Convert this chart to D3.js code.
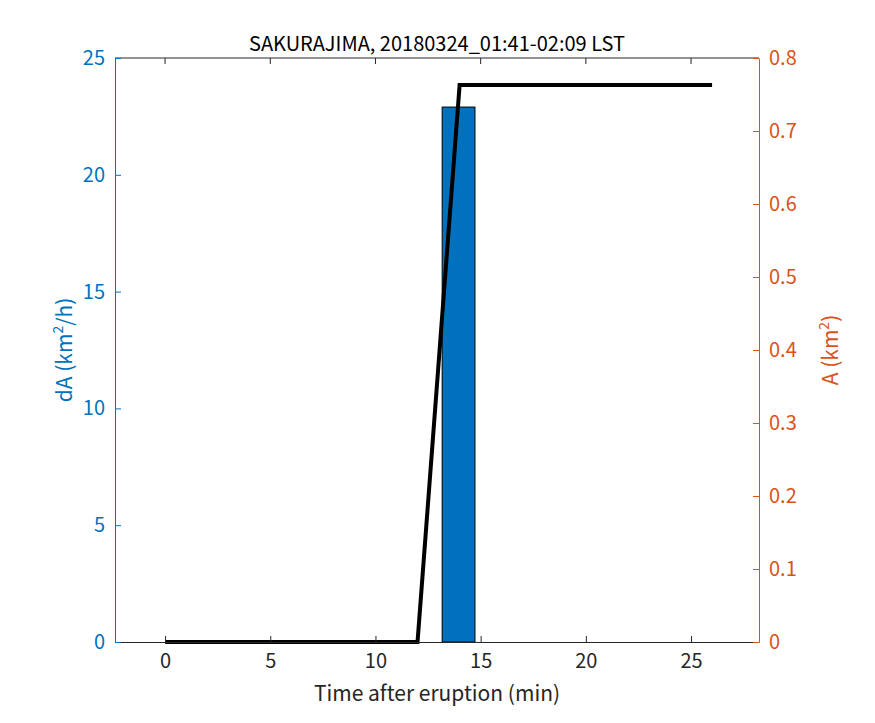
<!DOCTYPE html>
<html><head><meta charset="utf-8">
<script src="https://cdn.jsdelivr.net/npm/d3@7"></script>
<style>body{margin:0;background:#fff}svg{display:block}text{font-family:"Noto Sans CJK JP","Noto Sans",sans-serif}</style>
</head><body><svg id="c" width="875" height="723"></svg>
<script>
const titleText = "SAKURAJIMA, 20180324_01:41-02:09 LST";
const barTimes = [13.95];
const barValues = [22.9];
const barWidth = 1.56;
const lineTimes = [0, 12, 14, 26];
const lineValues = [0, 0, 0.763, 0.763];
const xTicks = [0, 5, 10, 15, 20, 25];
const yLeftTicks = [0, 5, 10, 15, 20, 25];
const yRightTicks = [0, 0.1, 0.2, 0.3, 0.4, 0.5, 0.6, 0.7, 0.8];

const W = 875, H = 723, L = 115, R = 759, T = 58, B = 642;
const blue = "#0072BD", orange = "#D95319";
const svg = d3.select("#c");
svg.append("rect").attr("width", W).attr("height", H).attr("fill", "#fff");
const x = d3.scaleLinear().domain([-2.38, 28.23]).range([L, R]);
const yl = d3.scaleLinear().domain([0, 25]).range([B, T]);
const yr = d3.scaleLinear().domain([0, 0.8]).range([B, T]);

svg.selectAll(".bar").data(barTimes).enter().append("rect")
  .attr("x", d => x(d - barWidth / 2)).attr("width", d => x(d + barWidth / 2) - x(d - barWidth / 2))
  .attr("y", (d, i) => yl(barValues[i])).attr("height", (d, i) => yl(0) - yl(barValues[i]))
  .attr("fill", blue).attr("stroke", "#000").attr("stroke-width", 1);

svg.append("path").datum(lineTimes.map((t, i) => [t, lineValues[i]]))
  .attr("d", d3.line().x(d => x(d[0])).y(d => yr(d[1])))
  .attr("fill", "none").attr("stroke", "#000").attr("stroke-width", 4);

svg.append("line").attr("x1", L).attr("x2", R).attr("y1", T).attr("y2", T).attr("stroke", "#262626");

const fs = "20px";
const gx = svg.append("g").attr("transform", `translate(0,${B})`)
  .call(d3.axisBottom(x).tickValues(xTicks).tickSizeInner(-6).tickSizeOuter(0).tickPadding(12));
gx.select(".domain").attr("stroke", "#262626");
gx.selectAll("line").attr("stroke", "#262626");
gx.selectAll("text").attr("font-size", fs).attr("fill", "#262626");
svg.selectAll(".tt").data(xTicks).enter().append("line")
  .attr("x1", d => x(d)).attr("x2", d => x(d)).attr("y1", T).attr("y2", T + 6).attr("stroke", "#262626");

const gl = svg.append("g").attr("transform", `translate(${L},0)`)
  .call(d3.axisLeft(yl).tickValues(yLeftTicks).tickSizeInner(-6).tickSizeOuter(0).tickPadding(10));
gl.select(".domain").attr("stroke", blue);
gl.selectAll("line").attr("stroke", blue);
gl.selectAll("text").attr("font-size", fs).attr("fill", blue);

const gr = svg.append("g").attr("transform", `translate(${R},0)`)
  .call(d3.axisRight(yr).tickValues(yRightTicks).tickFormat(d => d === 0 ? "0" : d3.format(".1f")(d)).tickSizeInner(-6).tickSizeOuter(0).tickPadding(10));
gr.select(".domain").attr("stroke", orange);
gr.selectAll("line").attr("stroke", orange);
gr.selectAll("text").attr("font-size", fs).attr("fill", orange);

svg.append("text").attr("x", (L + R) / 2).attr("y", 51).attr("text-anchor", "middle")
  .attr("font-size", "20px").attr("fill", "#000").text(titleText);
svg.append("text").attr("x", (L + R) / 2).attr("y", 701).attr("text-anchor", "middle")
  .attr("font-size", "21px").attr("fill", "#262626").text("Time after eruption (min)");

const ylab = svg.append("text").attr("transform", `translate(72,${(T + B) / 2}) rotate(-90)`)
  .attr("text-anchor", "middle").attr("font-size", "21px").attr("fill", blue);
ylab.append("tspan").text("dA (km");
ylab.append("tspan").attr("dy", -9).attr("font-size", "14px").text("2");
ylab.append("tspan").attr("dy", 9).text("/h)");

const yrl = svg.append("text").attr("transform", `translate(838,${(T + B) / 2}) rotate(-90)`)
  .attr("text-anchor", "middle").attr("font-size", "21px").attr("fill", orange);
yrl.append("tspan").text("A (km");
yrl.append("tspan").attr("dy", -9).attr("font-size", "14px").text("2");
yrl.append("tspan").attr("dy", 9).text(")");
</script></body></html>
